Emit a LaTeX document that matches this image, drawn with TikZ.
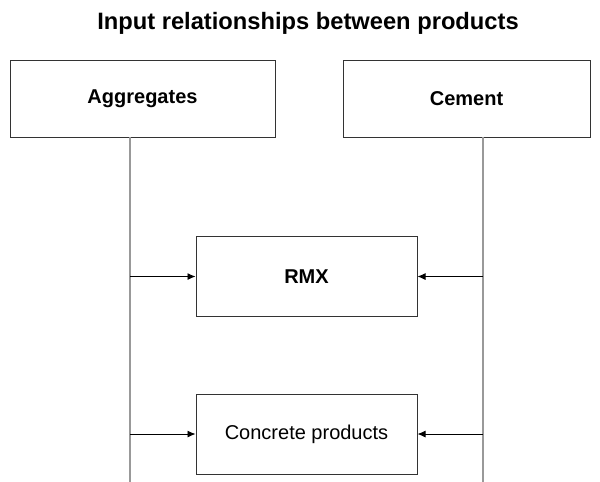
\documentclass[tikz,border=0pt]{standalone}
\usepackage{fontspec}
\setmainfont{Liberation Sans}
\usepackage{tikz}
\usetikzlibrary{arrows.meta}

\begin{document}
\begin{tikzpicture}[x=1pt,y=-1pt,
	prod/.style={draw=black!80, line width=1pt, inner sep=0pt,
		font=\fontsize{20}{24}\selectfont},
	feed/.style={draw=black!40, line width=1.2pt},
	inp/.style={draw=black, line width=0.9pt,
		-{Latex[length=8pt,width=7pt]}}]
	%\draw[help lines] (0,0) grid (600,482);
	\useasboundingbox (0,0) rectangle (600,482);
	
	\node (title) at (308,23) {\fontsize{23.7}{28}\selectfont\bfseries Input relationships between products};
	
	\node[prod, minimum width=265pt, minimum height=77pt] (agg) at (142.5,98.5) {\bfseries Aggregates};
	\node[prod, minimum width=247pt, minimum height=77pt] (cem) at (466.5,98.5) {\bfseries Cement};
	\node[prod, minimum width=221pt, minimum height=80pt] (rmx) at (306.5,276.5) {\bfseries RMX};
	\node[prod, minimum width=221pt, minimum height=80pt] (conc) at (306.5,434) {Concrete products};
	
	\coordinate (aggTop) at (130,137);
	\coordinate (aggEnd) at (130,482);
	\coordinate (cemTop) at (483,137);
	\coordinate (cemEnd) at (483,482);
	\draw[feed] (aggTop) -- (aggEnd);
	\draw[feed] (cemTop) -- (cemEnd);
	
	\foreach \p in {rmx,conc}{
		\draw[inp] (aggTop |- \p.west) -- (\p.west);
		\draw[inp] (cemTop |- \p.east) -- (\p.east);
	}
\end{tikzpicture}
\end{document}
